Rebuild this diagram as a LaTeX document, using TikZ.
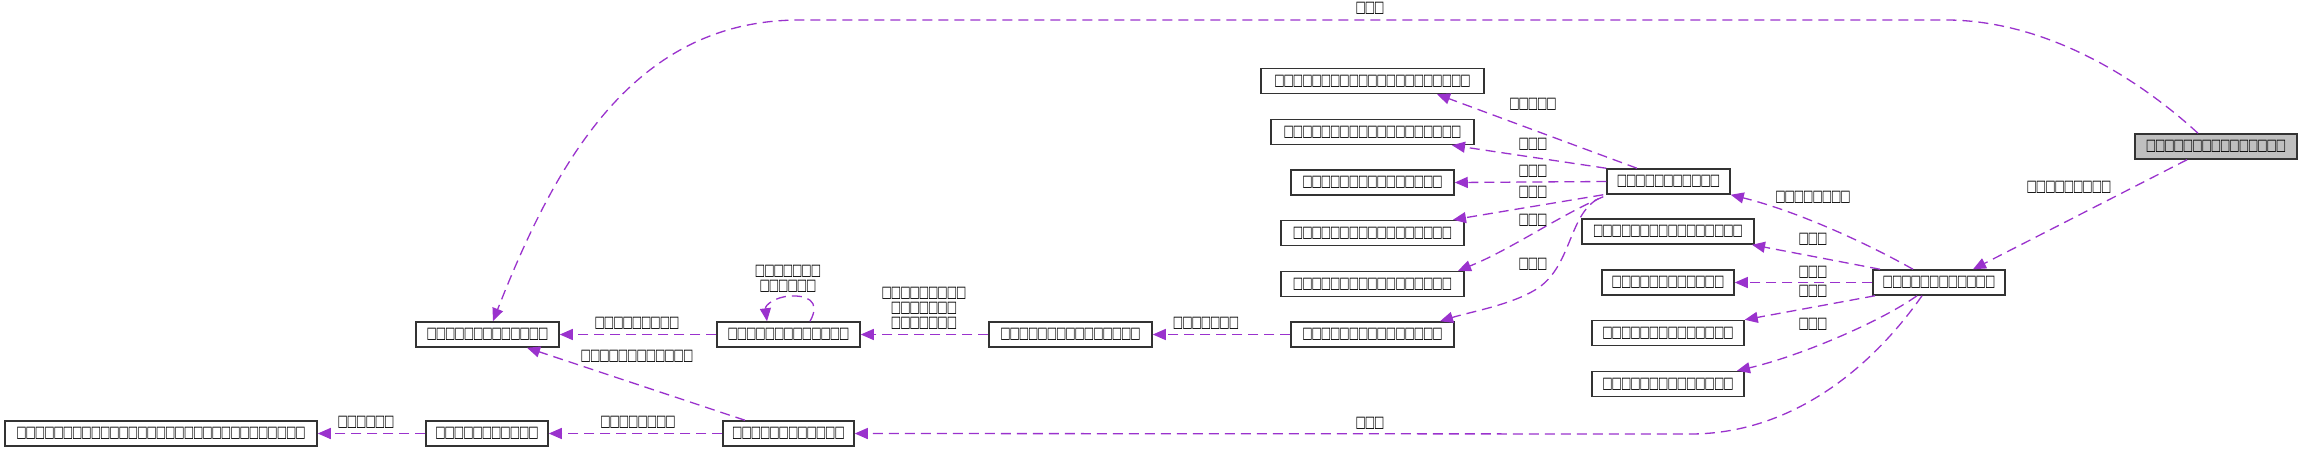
\documentclass[tikz,border=0pt]{standalone}
\usepackage{fontspec}
\usepackage{graphicx}
\usetikzlibrary{arrows.meta,calc}
\newfontfamily\tofufont{DejaVu Sans}
\definecolor{usecol}{HTML}{9A32CD}
\definecolor{curgray}{HTML}{BFBFBF}
\newcommand\tf[1]{\foreach\k in {1,...,#1}{\makebox[4.65pt]{\scalebox{0.68}[1]{\symbol{"25A1}}}}}

\begin{document}
\begin{tikzpicture}[x=0.5pt,y=-0.5pt,
  cls/.style={draw=black!80,fill=white,line width=0.75pt,minimum height=12.5pt,inner sep=0pt,font=\tofufont\fontsize{8}{7.5}\selectfont},
  elab/.style={inner sep=0pt,align=center,font=\tofufont\fontsize{8}{7.5}\selectfont},
  use/.style={draw=usecol,line width=0.65pt,dash pattern=on 5pt off 3pt,-{Triangle[length=6.5pt,width=5.5pt]}}]
  \useasboundingbox (0,0) rectangle (2303,452);
  % classes
  \node[cls,fill=curgray,minimum width=81pt] (cur) at (2216,146.5) {\tf{15}};
  \node[cls,minimum width=66pt] (hub) at (1939,282.5) {\tf{12}};
  \node[cls,minimum width=61.5pt] (mid) at (1668.5,181.5) {\tf{11}};
  \node[cls,minimum width=111.5pt] (m1) at (1372.5,81) {\tf{21}};
  \node[cls,minimum width=101.5pt] (m2) at (1372.5,132) {\tf{19}};
  \node[cls,minimum width=81.5pt] (m3) at (1372.5,182.5) {\tf{15}};
  \node[cls,minimum width=91.5pt] (m4) at (1372.5,233) {\tf{17}};
  \node[cls,minimum width=91.5pt] (m5) at (1372.5,284) {\tf{17}};
  \node[cls,minimum width=81.5pt] (m6) at (1372.5,334.5) {\tf{15}};
  \node[cls,minimum width=86pt] (r1) at (1668,231.5) {\tf{16}};
  \node[cls,minimum width=66pt] (r2) at (1668,282.5) {\tf{12}};
  \node[cls,minimum width=76pt] (r3) at (1668,333) {\tf{14}};
  \node[cls,minimum width=76pt] (r4) at (1668,384) {\tf{14}};
  \node[cls,minimum width=81.5pt] (n6) at (1070.5,334.5) {\tf{15}};
  \node[cls,minimum width=71.5pt] (n4) at (788.5,334.5) {\tf{13}};
  \node[cls,minimum width=71.5pt] (n3) at (487.5,334.5) {\tf{13}};
  \node[cls,minimum width=65.5pt] (n5) at (788.5,433.5) {\tf{12}};
  \node[cls,minimum width=61pt] (n2) at (487,433.5) {\tf{11}};
  \node[cls,minimum width=156pt] (n1) at (161,433.5) {\tf{31}};
  % usage edges
  \draw[use] ($(cur.north)+(-18,0)$) .. controls (2140,80) and (2050,22) .. (1950,20) -- (800,20) .. controls (640,20) and (560,150) .. ($(n3.north)+(5.5,0)$);
  \draw[use] ($(cur.south)+(-29,0)$) -- ($(hub.north)+(34,0)$);
  \draw[use] ($(hub.north)+(-26,0)$) .. controls (1870,245) and (1800,212) .. (mid.south east);
  \draw[use] ($(hub.north)+(-59,0)$) -- ($(r1.south)+(84,0)$);
  \draw[use] ($(hub.south)+(-64,0)$) -- (r3.north east);
  \draw[use] ($(hub.south)+(-22,0)$) .. controls (1880,322) and (1800,356) .. ($(r4.north)+(69,0)$);
  \draw[use] ($(hub.south)+(-17,0)$) .. controls (1870,370) and (1790,434) .. (1690,434) -- (n5.east);
  \draw[use] ($(mid.north)+(-31.5,0)$) -- ($(m1.south)+(64.5,0)$);
  \draw[use] (mid.north west) -- ($(m2.south)+(79.5,0)$);
  \draw[use] ($(mid.south west)+(-3,0)$) -- ($(m4.north)+(80.5,0)$);
  \draw[use] ($(mid.south west)+(-3,2)$) .. controls (1560,215) and (1510,250) .. ($(m5.north)+(85.5,0)$);
  \draw[use] ($(mid.south west)+(-8,4)$) .. controls (1568,215) and (1572,268) .. (1535,290) .. controls (1510,305) and (1470,312) .. ($(m6.north)+(67.5,0)$);
  \draw[use] ($(n4.north)+(21.5,0)$) .. controls (822,300) and (805,295) .. (790,296) .. controls (775,297) and (765,305) .. ($(n4.north)+(-21.5,0)$);
  \draw[use] ($(n5.north)+(-43.5,0)$) -- ($(n3.south)+(39.5,0)$);
  \foreach \s/\t in {hub.west/r2.east,mid.west/m3.east,m6.west/n6.east,n6.west/n4.east,n4.west/n3.east,n5.west/n2.east,n2.west/n1.east}{\draw[use] (\s)--(\t);}
  % edge labels
  \node[elab] (t-top) at (1370,8) {\tf{3}};
  \node[elab] (t-hub) at (2069,187) {\tf{9}};
  \node[elab] (t-mid) at (1813,197) {\tf{8}};
  \node[elab] (t-r1) at (1813,239) {\tf{3}};
  \node[elab] (t-r2) at (1813,272) {\tf{3}};
  \node[elab] (t-r3) at (1813,291) {\tf{3}};
  \node[elab] (t-r4) at (1813,324) {\tf{3}};
  \node[elab] (t-n5) at (1370,423) {\tf{3}};
  \node[elab] (t-m1) at (1533,104) {\tf{5}};
  \node[elab] (t-m2) at (1533,144) {\tf{3}};
  \node[elab] (t-m3) at (1533,171) {\tf{3}};
  \node[elab] (t-m4) at (1533,192) {\tf{3}};
  \node[elab] (t-m5) at (1533,220) {\tf{3}};
  \node[elab] (t-m6) at (1533,264) {\tf{3}};
  \node[elab] (t-n6) at (1206,323) {\tf{7}};
  \node[elab] (t-n4) at (924,308) {\tf{9}\\\tf{7}\\\tf{7}};
  \node[elab] (t-loop) at (788,279) {\tf{7}\\\tf{6}};
  \node[elab] (t-n3a) at (637,323) {\tf{9}};
  \node[elab] (t-n3b) at (637,356) {\tf{12}};
  \node[elab] (t-n2) at (638,422) {\tf{8}};
  \node[elab] (t-n1) at (366,422) {\tf{6}};
\end{tikzpicture}
\end{document}
